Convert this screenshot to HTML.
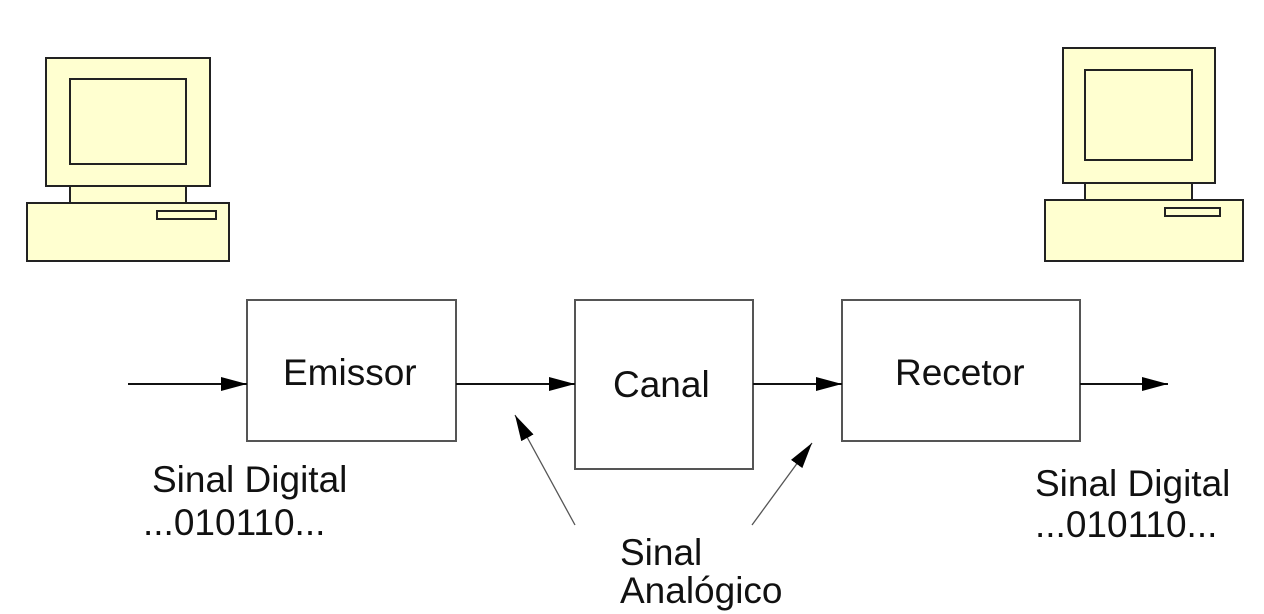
<!DOCTYPE html>
<html><head><meta charset="utf-8"><style>
html,body{margin:0;padding:0;background:#fff;width:1264px;height:614px;overflow:hidden}
text{font-family:"Liberation Sans",sans-serif;font-size:37px;fill:#111}
</style></head><body>
<svg width="1264" height="614" xmlns="http://www.w3.org/2000/svg">
<defs><marker id="a" markerWidth="10" markerHeight="8" refX="10" refY="4" orient="auto" markerUnits="userSpaceOnUse"><path d="M0,0 L10,4 L0,8 z" fill="#000"/></marker>
<marker id="b" markerWidth="26" markerHeight="14" refX="26" refY="7" orient="auto" markerUnits="userSpaceOnUse"><path d="M0,0 L26,7 L0,14 z" fill="#000"/></marker></defs>
<g fill="#ffffd0" stroke="#222" stroke-width="2">
<rect x="46" y="58" width="164" height="128"/><rect x="70" y="79" width="116" height="85"/>
<rect x="70" y="186" width="116" height="17"/><rect x="27" y="203" width="202" height="58"/>
<rect x="157" y="211" width="59" height="8"/>
<rect x="1063" y="48" width="152" height="135"/><rect x="1085" y="70" width="107" height="90"/>
<rect x="1085" y="183" width="107" height="17"/><rect x="1045" y="200" width="198" height="61"/>
<rect x="1165" y="208" width="55" height="8"/>
</g>
<g fill="#fff" stroke="#555" stroke-width="2">
<rect x="247" y="300" width="209" height="141"/>
<rect x="575" y="300" width="178" height="169"/>
<rect x="842" y="300" width="238" height="141"/>
</g>
<g stroke="#111" stroke-width="2" fill="none" marker-end="url(#b)">
<line x1="128" y1="384" x2="247" y2="384"/>
<line x1="456" y1="384" x2="575" y2="384"/>
<line x1="753" y1="384" x2="842" y2="384"/>
<line x1="1080" y1="384" x2="1168" y2="384"/>
</g>
<g stroke="#555" stroke-width="1.3" fill="none" marker-end="url(#b)">
<line x1="575" y1="525" x2="515" y2="415"/>
<line x1="752" y1="525" x2="812" y2="443"/>
</g>
<text x="283" y="385">Emissor</text>
<text x="613" y="397">Canal</text>
<text x="895" y="385">Recetor</text>
<text x="152" y="492">Sinal Digital</text>
<text x="143" y="535">...010110...</text>
<text x="1035" y="496">Sinal Digital</text>
<text x="1035" y="537">...010110...</text>
<text x="620" y="565">Sinal</text>
<text x="620" y="603">Analógico</text>
</svg>
</body></html>
